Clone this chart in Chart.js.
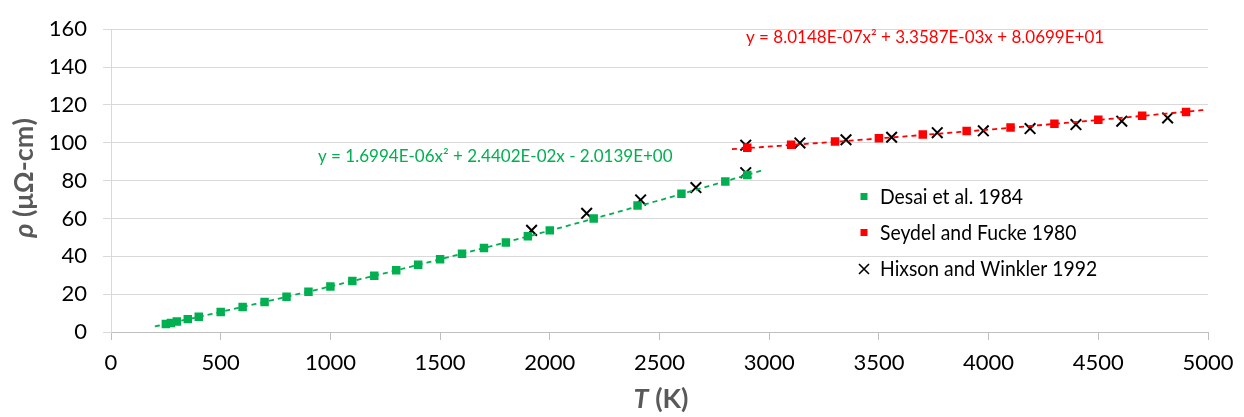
<!DOCTYPE html>
<html lang="en">
<head>
<meta charset="UTF-8">
<title>Resistivity vs temperature</title>
<script src="https://cdn.jsdelivr.net/npm/chart.js"></script>
<style>
  body { margin: 0; background: #fff; }
  #wrap { width: 1244px; height: 417px; }
</style>
</head>
<body>
<div id="wrap"><canvas id="rhoChart" width="1244" height="417"></canvas></div>
<script>
// Desai et al. 1984
const desaiT   = [250, 273, 300, 350, 400, 500, 600, 700, 800, 900, 1000, 1100, 1200, 1300, 1400, 1500, 1600, 1700, 1800, 1900, 2000, 2200, 2400, 2600, 2800, 2900];
const desaiRho = [4.2, 4.8, 5.5, 6.8, 8.0, 10.6, 13.2, 15.9, 18.6, 21.3, 24.1, 26.9, 29.7, 32.6, 35.5, 38.4, 41.4, 44.4, 47.3, 50.6, 53.7, 60.0, 66.8, 73.0, 79.5, 82.9];

// Seydel and Fucke 1980
const seydelT   = [2900, 3100, 3300, 3500, 3700, 3900, 4100, 4300, 4500, 4700, 4900];
const seydelRho = [97.3, 99.0, 100.7, 102.4, 104.3, 106.2, 108.0, 110.1, 112.2, 114.3, 116.3];

// Hixson and Winkler 1992
const hixsonT   = [1917, 2168, 2414, 2666, 2893, 2893, 3140, 3350, 3558, 3766, 3976, 4189, 4398, 4607, 4816];
const hixsonRho = [53.7, 62.7, 69.8, 76.3, 84.2, 98.7, 99.9, 101.6, 102.9, 105.3, 106.3, 107.5, 109.6, 111.4, 113.1];

// quadratic fits [a, b, c] for y = a*x^2 + b*x + c, and the T range they are drawn over
const greenFit = [1.6994e-06, 2.4402e-02, -2.0139];
const greenFitRange = [200, 2980];
const redFit = [8.0148e-07, 3.3587e-03, 8.0699e+01];
const redFitRange = [2830, 5000];

const GREEN = '#00B050';
const RED = '#FF0000';
const FONT = "Lato, 'Open Sans', sans-serif";

function pairs(xs, ys) {
  return xs.map((x, i) => ({ x: x, y: ys[i] }));
}

function fitLine(c, range) {
  const pts = [];
  for (let t = range[0]; t <= range[1]; t += 20) {
    pts.push({ x: t, y: c[0] * t * t + c[1] * t + c[2] });
  }
  return pts;
}

// draws "italic part" + "plain part" centred on (0, 0) of the current transform
function mixedTitle(ctx, ital, rest, size) {
  ctx.font = 'italic bold ' + size + 'px ' + FONT;
  const w1 = ctx.measureText(ital).width;
  ctx.font = 'bold ' + size + 'px ' + FONT;
  const w2 = ctx.measureText(rest).width;
  const x0 = -(w1 + w2) / 2;
  ctx.font = 'italic bold ' + size + 'px ' + FONT;
  ctx.fillText(ital, x0, 0);
  ctx.font = 'bold ' + size + 'px ' + FONT;
  ctx.fillText(rest, x0 + w1, 0);
}

// axis titles, fit equations and the legend box
const decorations = {
  id: 'decorations',
  afterDraw(chart) {
    const ctx = chart.ctx;
    ctx.save();
    ctx.textBaseline = 'middle';
    ctx.textAlign = 'left';

    // equations
    ctx.font = '17px ' + FONT;
    ctx.fillStyle = GREEN;
    ctx.fillText('y = 1.6994E-06x\u00B2 + 2.4402E-02x - 2.0139E+00', 318, 157);
    ctx.fillStyle = RED;
    ctx.fillText('y = 8.0148E-07x\u00B2 + 3.3587E-03x + 8.0699E+01', 746, 38);

    // axis titles
    ctx.fillStyle = '#595959';
    ctx.translate(661, 399);
    mixedTitle(ctx, 'T', ' (K)', 27);
    ctx.setTransform(1, 0, 0, 1, 0, 0);
    ctx.translate(24, 178);
    ctx.rotate(-Math.PI / 2);
    mixedTitle(ctx, '\u03C1', ' (\u03BC\u03A9-cm)', 27);
    ctx.setTransform(1, 0, 0, 1, 0, 0);

    // legend
    const items = [
      { label: 'Desai et al. 1984', kind: 'sq', color: GREEN },
      { label: 'Seydel and Fucke 1980', kind: 'sq', color: RED },
      { label: 'Hixson and Winkler 1992', kind: 'x', color: '#000' }
    ];
    const rows = [196.5, 232.5, 269];
    items.forEach((it, i) => {
      const cy = rows[i];
      if (it.kind === 'sq') {
        ctx.fillStyle = it.color;
        ctx.fillRect(860.5, cy - 3.5, 7, 7);
      } else {
        ctx.strokeStyle = it.color;
        ctx.lineWidth = 1.6;
        ctx.beginPath();
        ctx.moveTo(859, cy - 5); ctx.lineTo(869, cy + 5);
        ctx.moveTo(869, cy - 5); ctx.lineTo(859, cy + 5);
        ctx.stroke();
      }
      // narrower letterforms for the legend labels
      ctx.save();
      ctx.translate(880, cy);
      ctx.scale(0.88, 1);
      ctx.font = '22px ' + FONT;
      ctx.fillStyle = '#000';
      ctx.fillText(it.label, 0, 0);
      ctx.restore();
    });
    ctx.restore();
  }
};

new Chart(document.getElementById('rhoChart'), {
  type: 'scatter',
  data: {
    datasets: [
      {
        label: 'fit desai',
        data: fitLine(greenFit, greenFitRange),
        showLine: true,
        borderColor: GREEN,
        borderWidth: 1.8,
        borderDash: [5, 4],
        pointRadius: 0
      },
      {
        label: 'fit seydel',
        data: fitLine(redFit, redFitRange),
        showLine: true,
        borderColor: RED,
        borderWidth: 1.8,
        borderDash: [5, 4],
        pointRadius: 0
      },
      {
        label: 'Desai et al. 1984',
        data: pairs(desaiT, desaiRho),
        pointStyle: 'rect',
        pointRadius: 6,
        backgroundColor: GREEN,
        borderColor: GREEN,
        borderWidth: 0
      },
      {
        label: 'Seydel and Fucke 1980',
        data: pairs(seydelT, seydelRho),
        pointStyle: 'rect',
        pointRadius: 6,
        backgroundColor: RED,
        borderColor: RED,
        borderWidth: 0
      },
      {
        label: 'Hixson and Winkler 1992',
        data: pairs(hixsonT, hixsonRho),
        pointStyle: 'crossRot',
        pointRadius: 7.5,
        borderColor: '#000',
        borderWidth: 2
      }
    ]
  },
  options: {
    responsive: false,
    animation: false,
    layout: { padding: { top: 18, right: 36, left: 0, bottom: 0 } },
    plugins: {
      legend: { display: false },
      tooltip: { enabled: false }
    },
    scales: {
      x: {
        type: 'linear',
        min: 0,
        max: 5000,
        afterFit(scale) { scale.height = 85; },
        ticks: {
          stepSize: 500,
          color: '#000',
          padding: 10,
          font: { family: FONT, size: 22 },
          callback: v => String(v)
        },
        grid: { drawOnChartArea: false, tickLength: 8, color: '#bfbfbf' },
        border: { color: '#bfbfbf' }
      },
      y: {
        min: 0,
        max: 160,
        afterFit(scale) { scale.width = 111; },
        ticks: {
          stepSize: 20,
          color: '#000',
          padding: 16,
          font: { family: FONT, size: 22 },
          callback: v => String(v)
        },
        grid: { color: '#d9d9d9', tickLength: 8 },
        border: { color: '#d9d9d9' }
      }
    }
  },
  plugins: [decorations]
});
</script>
</body>
</html>
